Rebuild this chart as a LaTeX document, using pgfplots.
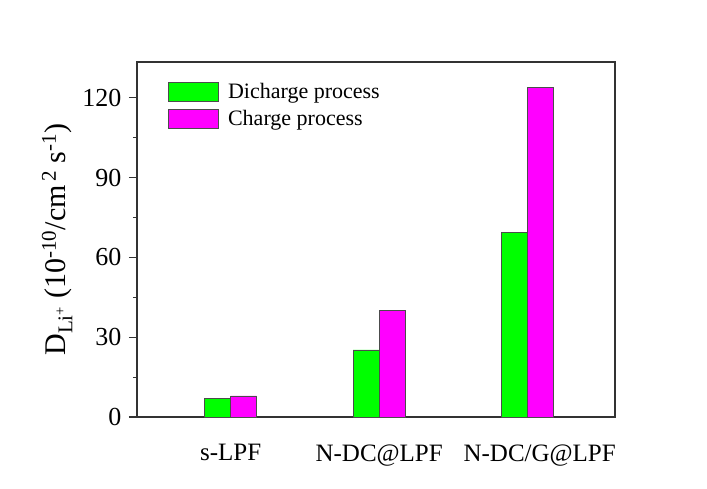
\documentclass[border=0pt]{standalone}
\usepackage{fontspec}
\setmainfont{Liberation Serif}
\usepackage{pgfplots}
\pgfplotsset{compat=1.18}
\definecolor{dgreen}{RGB}{0,255,0}
\definecolor{dmag}{RGB}{255,0,255}
\begin{document}
\begin{tikzpicture}[x=1pt,y=1pt]
\path[use as bounding box,fill=white] (0,0) rectangle (707,488);
\begin{axis}[
  at={(137pt,71pt)}, anchor=south west,
  scale only axis, width=478pt, height=355pt,
  xmin=0.369, xmax=3.588, ymin=0, ymax=133.4,
  axis line style={line width=1.2pt, black!80},
  xtick={1,2,3},
  xticklabels={s-LPF, N-DC@LPF, \hspace*{24pt}N-DC/G@LPF},
  x tick style={draw=none},
  xticklabel style={font=\fontsize{25}{30}\selectfont, yshift=-16pt},
  ytick={0,30,60,90,120},
  minor y tick num=1,
  ytick pos=left,
  tick align=outside,
  major tick length=8pt, minor tick length=4pt,
  y tick style={line width=1.1pt, black!80},
  yticklabel style={font=\fontsize{26}{30}\selectfont, xshift=-4pt},
  /pgf/number format/assume math mode=true,
  ylabel={D\textsubscript{Li\textsuperscript{+}} (10\textsuperscript{-10}/cm\textsuperscript{\,2} s\textsuperscript{-1})},
  ylabel style={font=\fontsize{30}{32}\selectfont, at={(axis description cs:-0.128,0.5)}, anchor=south},
  ybar, bar width=26pt,
  legend style={at={(axis description cs:0.065,0.946)}, anchor=north west, draw=none, fill=none,
    font=\fontsize{22}{26}\selectfont, row sep=6pt, inner sep=0pt},
  legend cell align=left,
  legend image code/.code={\draw[#1,draw=black!70,line width=0.8pt] (0pt,-9.5pt) rectangle (50pt,9.5pt); \path (57pt,0pt);},
]
\addplot[fill=dgreen, draw=black!70, line width=0.8pt, bar shift=-13pt] coordinates {(1,7.0) (2,25.2) (3,69.5)};
\addplot[fill=dmag, draw=black!70, line width=0.8pt, bar shift=13pt] coordinates {(1,7.9) (2,40.2) (3,123.8)};
\legend{Dicharge process, Charge process}
\end{axis}
\end{tikzpicture}
\end{document}
